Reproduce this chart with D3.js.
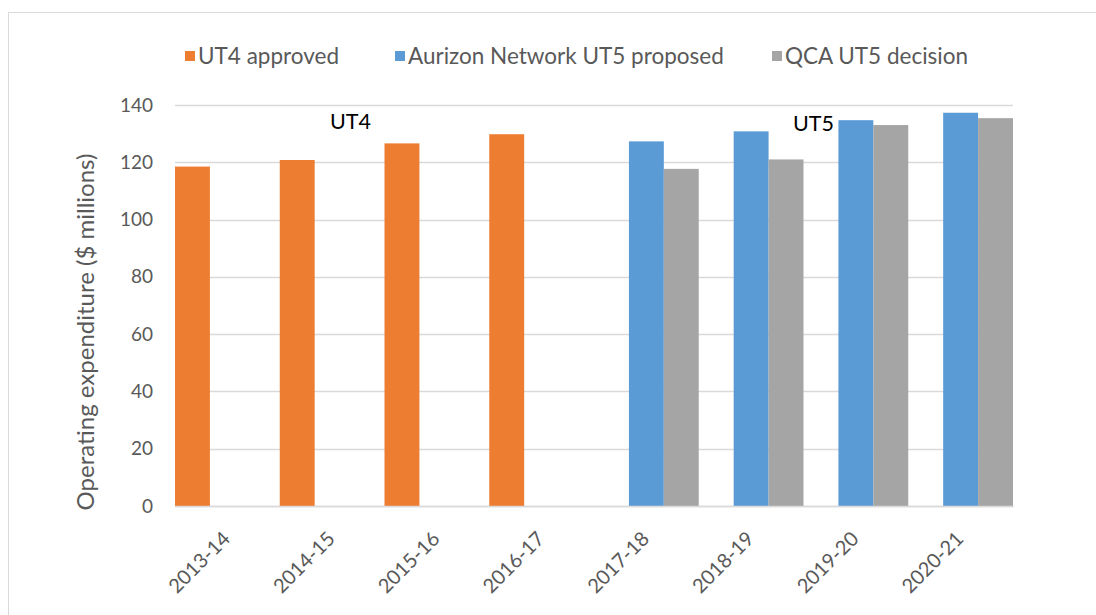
<!DOCTYPE html>
<html>
<head>
<meta charset="utf-8">
<script src="https://cdn.jsdelivr.net/npm/d3@7"></script>
<style>
  body { margin: 0; background: #fff; }
  svg { display: block; font-family: Lato, "Open Sans", sans-serif; }
</style>
</head>
<body>
<div id="chart"></div>
<script>
// data
const years = ["2013-14", "2014-15", "2015-16", "2016-17", "2017-18", "2018-19", "2019-20", "2020-21"];
const seriesNames = ["UT4 approved", "Aurizon Network UT5 proposed", "QCA UT5 decision"];
const ut4Approved = [118.5, 120.8, 126.6, 129.8, null, null, null, null];
const ut5Proposed = [null, null, null, null, 127.3, 130.8, 134.7, 137.3];
const qcaDecision = [null, null, null, null, 117.7, 121.0, 133.0, 135.4];
const yTicks = [0, 20, 40, 60, 80, 100, 120, 140];
const colors = ["#ED7D31", "#5B9BD5", "#A5A5A5"];

const W = 1096, H = 615;
const margin = { top: 105, left: 175, right: 83, bottom: 109 },
  width = W - margin.left - margin.right,
  height = H - margin.top - margin.bottom;

const rows = years.map((y, i) => ({
  year: y,
  values: [ut4Approved[i], ut5Proposed[i], qcaDecision[i]]
}));

const svg = d3.select("#chart").append("svg").attr("width", W).attr("height", H);

// outer chart border
svg.append("rect")
  .attr("x", 8.5).attr("y", 12.5)
  .attr("width", W).attr("height", H)
  .attr("fill", "none").attr("stroke", "#d9d9d9");

const g = svg.append("g").attr("transform", `translate(${margin.left},${margin.top})`);

/* scales */
const x0 = d3.scaleBand().domain(years).range([0, width]).paddingInner(0).paddingOuter(0);
const x1 = d3.scaleBand().domain(d3.range(3)).range([0, x0.bandwidth()]);
const y = d3.scaleLinear().domain([0, 140]).range([height, 0]);

/* gridlines */
g.append("g")
  .selectAll("line")
  .data(yTicks)
  .join("line")
  .attr("x1", 0).attr("x2", width)
  .attr("y1", (d) => Math.round(y(d)) + 0.5).attr("y2", (d) => Math.round(y(d)) + 0.5)
  .attr("stroke", "#d9d9d9").attr("stroke-width", 1.3);

/* bars */
g.append("g")
  .selectAll("g")
  .data(rows)
  .join("g")
  .attr("transform", (d) => `translate(${x0(d.year)},0)`)
  .selectAll("rect")
  .data((d) => d.values.map((v, k) => ({ k, v })).filter((e) => e.v != null))
  .join("rect")
  .attr("x", (d) => x1(d.k))
  .attr("width", x1.bandwidth())
  .attr("y", (d) => y(d.v))
  .attr("height", (d) => y(0) - y(d.v))
  .attr("fill", (d) => colors[d.k]);

/* y axis labels */
const yAxis = d3.axisLeft(y).tickValues(yTicks).tickSize(0).tickPadding(22);
const yAxisDraw = g.append("g").call(yAxis);
yAxisDraw.select(".domain").remove();
yAxisDraw.selectAll("text")
  .attr("fill", "#595959").style("font-size", "19px")
  .style("font-family", "Lato, sans-serif");

/* x axis */
const xAxis = d3.axisBottom(x0).tickSize(0).tickPadding(0);
const xAxisDraw = g.append("g").attr("transform", `translate(0,${height})`).call(xAxis);
xAxisDraw.select(".domain").attr("stroke", "#d9d9d9").attr("stroke-width", 1.3);
xAxisDraw.selectAll("text")
  .attr("fill", "#595959").style("font-size", "20px")
  .style("font-family", "Lato, sans-serif")
  .attr("text-anchor", "end")
  .attr("dy", 0)
  .attr("transform", "translate(4,34) rotate(-45)");

/* axis title */
svg.append("text")
  .attr("transform", `translate(94,332) rotate(-90)`)
  .attr("text-anchor", "middle")
  .attr("fill", "#595959")
  .style("font-size", "24px")
  .text("Operating expenditure ($ millions)");

/* annotations */
svg.append("text").attr("x", 330).attr("y", 129).style("font-size", "21.5px").attr("fill", "#000").text("UT4");
svg.append("text").attr("x", 793).attr("y", 131).style("font-size", "21.5px").attr("fill", "#000").text("UT5");

/* legend */
const legendX = [185, 395, 772];
const legend = svg.append("g")
  .selectAll("g")
  .data(seriesNames)
  .join("g")
  .attr("transform", (d, i) => `translate(${legendX[i]},51)`);
legend.append("rect").attr("width", 10).attr("height", 10).attr("fill", (d, i) => colors[i]);
legend.append("text")
  .attr("x", 13).attr("y", 13)
  .attr("fill", "#595959")
  .style("font-size", "22.5px")
  .text((d) => d);
</script>
</body>
</html>
